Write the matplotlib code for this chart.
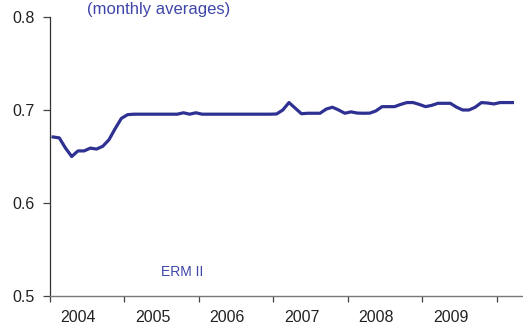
"""
Exchange rate line chart, monthly averages 2004-2010
"""
import numpy as np
import matplotlib.pyplot as plt

plt.rcParams['font.family'] = ['Liberation Sans', 'DejaVu Sans']

# monthly averages, Jan 2004 .. Mar 2010
start_year = 2004
rate = [
    0.671, 0.670, 0.659, 0.650, 0.656, 0.656, 0.659, 0.658, 0.661, 0.668, 0.680, 0.691,
    0.695, 0.6955, 0.6955, 0.6955, 0.6955, 0.6955, 0.6955, 0.6955, 0.6955, 0.697, 0.6955, 0.697,
    0.6955, 0.6955, 0.6955, 0.6955, 0.6955, 0.6955, 0.6955, 0.6955, 0.6955, 0.6955, 0.6955, 0.6955,
    0.6957, 0.700, 0.708, 0.702, 0.696, 0.6965, 0.6965, 0.6965, 0.701, 0.703, 0.700, 0.6965,
    0.698, 0.6967, 0.6965, 0.6966, 0.699, 0.7036, 0.7036, 0.7036, 0.706, 0.708, 0.708, 0.706,
    0.7036, 0.705, 0.7072, 0.7072, 0.7072, 0.703, 0.700, 0.700, 0.703, 0.708, 0.7075, 0.7065,
    0.708, 0.708, 0.708,
]
years = [2004, 2005, 2006, 2007, 2008, 2009]
y_ticks = [0.5, 0.6, 0.7, 0.8]
y_ticklabels = ['0.5', '0.6', '0.7', '0.8']

line_color = '#2e3192'
text_blue = '#3f46a8'

t = start_year + (np.arange(len(rate)) + 0.5) / 12.0

fig = plt.figure(figsize=(5.23, 3.29), dpi=100)
ax = fig.add_axes([50 / 523, 33 / 329, 1 - 50 / 523, 279 / 329])

ax.plot(t, rate, color=line_color, linewidth=2.3, solid_joinstyle='round')

ax.set_xlim(2004.0, 2010.35)
ax.set_ylim(0.5, 0.8)

# year boundaries as ticks, year names in between
ax.set_xticks(range(2004, 2011))
ax.set_xticklabels([])
ax.set_xticks([y + 0.38 for y in years], minor=True)
ax.set_xticklabels([str(y) for y in years], minor=True, fontsize=11.5, color='#222222')
ax.tick_params(axis='x', which='major', direction='out', length=4, width=0.9, color='#444444')
ax.tick_params(axis='x', which='minor', length=0, pad=10)

ax.set_yticks(y_ticks)
ax.set_yticklabels(y_ticklabels, fontsize=11.5, color='#222222')
ax.tick_params(axis='y', direction='out', length=5, width=0.9, color='#444444', pad=6)

for side in ['top', 'right']:
    ax.spines[side].set_visible(False)
ax.spines['left'].set_color('#333333')
ax.spines['bottom'].set_color('#777777')
ax.spines['left'].set_linewidth(0.9)
ax.spines['bottom'].set_linewidth(1.0)

ax.text(2005.78, 0.5258, 'ERM II', color=text_blue, fontsize=10,
        ha='center', va='center')

fig.text(159 / 523, 1 - 14 / 329, '(monthly averages)', color=text_blue,
         fontsize=12, ha='center', va='baseline')

fig.savefig('out.png', dpi=100)
plt.close(fig)
